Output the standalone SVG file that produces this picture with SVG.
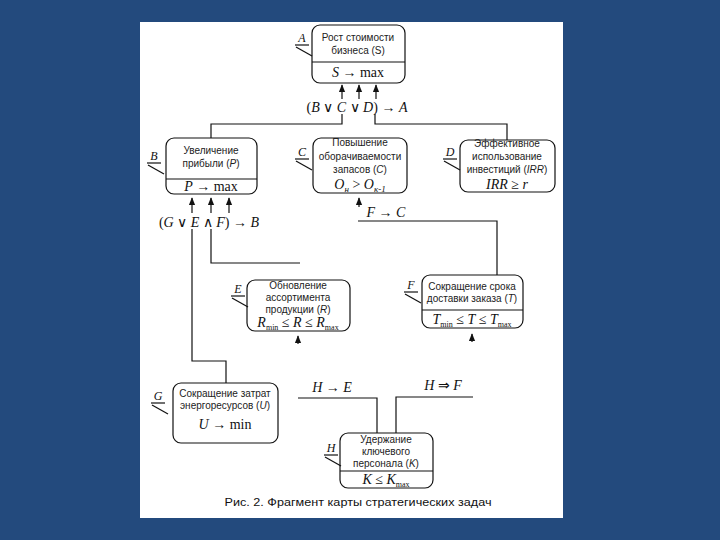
<svg xmlns="http://www.w3.org/2000/svg" width="720" height="540" viewBox="0 0 720 540">
<defs>
<style>
.box{fill:#fff;stroke:#111;stroke-width:1.2}
.ln{fill:none;stroke:#111;stroke-width:1.2}
.t{font-family:"Liberation Sans",Arial,sans-serif;font-size:10px;fill:#222;text-anchor:middle}
.f{font-family:"Liberation Serif","Times New Roman",serif;font-size:14px;fill:#111;text-anchor:middle}
.fi{font-style:italic}
.lab{font-family:"Liberation Serif","Times New Roman",serif;font-style:italic;font-size:12px;fill:#111;text-anchor:middle}
.cap{font-family:"Liberation Sans",Arial,sans-serif;font-size:11px;fill:#111;text-anchor:middle}
</style>
<marker id="ah" viewBox="0 0 8 10" refX="4" refY="1" markerWidth="7" markerHeight="8" markerUnits="userSpaceOnUse" orient="0">
<path d="M0,10 L4,0 L8,10 Z" fill="#111"/>
</marker>
<g id="mark">
<line x1="-7" y1="3" x2="7" y2="3" class="ln" stroke-width="1"/>
<line x1="-6" y1="5" x2="10" y2="14" class="ln" stroke-width="1"/>
</g>
</defs>
<rect width="720" height="540" fill="#234a7d"/>
<rect x="140" y="22" width="423" height="496" fill="#fff"/>

<g id="connectors">
<!-- into A -->
<line x1="342" y1="99" x2="342" y2="85" class="ln" marker-end="url(#ah)"/>
<line x1="359" y1="99" x2="359" y2="85" class="ln" marker-end="url(#ah)"/>
<line x1="376" y1="99" x2="376" y2="85" class="ln" marker-end="url(#ah)"/>
<polyline points="342,114 342,124 211,124 211,138" class="ln"/>
<polyline points="375,114 375,124 507,124 507,140" class="ln"/>
<!-- into B -->
<line x1="192" y1="213" x2="192" y2="198" class="ln" marker-end="url(#ah)"/>
<line x1="211" y1="213" x2="211" y2="198" class="ln" marker-end="url(#ah)"/>
<line x1="229" y1="213" x2="229" y2="198" class="ln" marker-end="url(#ah)"/>
<polyline points="192,229 192,361 226,361 226,383" class="ln"/>
<polyline points="211,229 211,263 300,263" class="ln"/>
<!-- into C -->
<line x1="359" y1="207" x2="359" y2="198" class="ln" marker-end="url(#ah)"/>
<polyline points="358,221 497,221 497,275" class="ln"/>
<!-- into E, F -->
<line x1="298" y1="344" x2="298" y2="336" class="ln" marker-end="url(#ah)"/>
<line x1="472" y1="342" x2="472" y2="334" class="ln" marker-end="url(#ah)"/>
<!-- from H -->
<polyline points="298,398 377,398 377,433" class="ln"/>
<polyline points="473,397 396,397 396,433" class="ln"/>
</g>

<g id="expr">
<text x="357" y="112" class="f">(<tspan class="fi">B</tspan> ∨ <tspan class="fi">C</tspan> ∨ <tspan class="fi">D</tspan>) → <tspan class="fi">A</tspan></text>
<text x="209" y="227" class="f">(<tspan class="fi">G</tspan> ∨ <tspan class="fi">E</tspan> ∧ <tspan class="fi">F</tspan>) → <tspan class="fi">B</tspan></text>
<text x="386" y="217" class="f"><tspan class="fi">F</tspan> → <tspan class="fi">C</tspan></text>
<text x="332" y="392" class="f" font-size="12" fill="#444"><tspan class="fi">H</tspan> → <tspan class="fi">E</tspan></text>
<text x="443" y="390" class="f"><tspan class="fi">H</tspan> ⇒ <tspan class="fi">F</tspan></text>
</g>

<g id="A">
<rect x="312" y="25" width="93" height="58" rx="8" class="box"/>
<line x1="312" y1="62" x2="405" y2="62" class="ln"/>
<text x="358" y="41" class="t">Рост стоимости</text>
<text x="358" y="54" class="t">бизнеса (S)</text>
<text x="358" y="77" class="f"><tspan class="fi">S</tspan> → max</text>
<text x="302" y="42" class="lab">A</text>
<use href="#mark" x="302" y="42"/>
</g>

<g id="B">
<rect x="166" y="138" width="91" height="56" rx="8" class="box"/>
<line x1="166" y1="179" x2="257" y2="179" class="ln"/>
<text x="211" y="154" class="t">Увеличение</text>
<text x="211" y="167" class="t">прибыли (<tspan font-style="italic">P</tspan>)</text>
<text x="211" y="191" class="f"><tspan class="fi">P</tspan> → max</text>
<text x="154" y="160" class="lab">B</text>
<use href="#mark" x="154" y="160"/>
</g>

<g id="C">
<rect x="313" y="138" width="94" height="55" rx="8" class="box"/>
<text x="360" y="146" class="t">Повышение</text>
<text x="360" y="160" class="t">оборачиваемости</text>
<text x="360" y="173" class="t">запасов (<tspan font-style="italic">C</tspan>)</text>
<text x="360" y="189" class="f"><tspan class="fi">O</tspan><tspan font-size="9" dy="3" class="fi">н</tspan><tspan dy="-3"> &gt; </tspan><tspan class="fi">O</tspan><tspan font-size="9" dy="3" class="fi">к-1</tspan></text>
<text x="302" y="156" class="lab">C</text>
<use href="#mark" x="302" y="156"/>
</g>

<g id="D">
<rect x="460" y="140" width="95" height="52" rx="8" class="box"/>
<text x="507" y="147" class="t">Эффективное</text>
<text x="507" y="160" class="t">использование</text>
<text x="507" y="173" class="t">инвестиций (<tspan font-style="italic">IRR</tspan>)</text>
<text x="507" y="189" class="f"><tspan class="fi">IRR</tspan> ≥ <tspan class="fi">r</tspan></text>
<text x="450" y="156" class="lab">D</text>
<use href="#mark" x="450" y="156"/>
</g>

<g id="E">
<rect x="247" y="280" width="103" height="51" rx="8" class="box"/>
<text x="298" y="289" class="t">Обновление</text>
<text x="298" y="301" class="t">ассортимента</text>
<text x="298" y="313" class="t">продукции (<tspan font-style="italic">R</tspan>)</text>
<text x="298" y="327" class="f"><tspan class="fi">R</tspan><tspan font-size="8" dy="3">min</tspan><tspan dy="-3"> ≤ </tspan><tspan class="fi">R</tspan> ≤ <tspan class="fi">R</tspan><tspan font-size="8" dy="3">max</tspan></text>
<text x="238" y="293" class="lab">E</text>
<use href="#mark" x="238" y="293"/>
</g>

<g id="F">
<rect x="422" y="275" width="101" height="53" rx="8" class="box"/>
<line x1="422" y1="310" x2="523" y2="310" class="ln"/>
<text x="472" y="290" class="t">Сокращение срока</text>
<text x="472" y="302" class="t">доставки заказа (<tspan font-style="italic">T</tspan>)</text>
<text x="472" y="324" class="f"><tspan class="fi">T</tspan><tspan font-size="8" dy="3">min</tspan><tspan dy="-3"> ≤ </tspan><tspan class="fi">T</tspan> ≤ <tspan class="fi">T</tspan><tspan font-size="8" dy="3">max</tspan></text>
<text x="411" y="289" class="lab">F</text>
<use href="#mark" x="411" y="289"/>
</g>

<g id="G">
<rect x="173" y="383" width="105" height="60" rx="8" class="box"/>
<text x="225" y="397" class="t">Сокращение затрат</text>
<text x="225" y="409" class="t">энергоресурсов (<tspan font-style="italic">U</tspan>)</text>
<text x="225" y="429" class="f"><tspan class="fi">U</tspan> → min</text>
<text x="158" y="400" class="lab">G</text>
<use href="#mark" x="158" y="400"/>
</g>

<g id="H">
<rect x="340" y="433" width="93" height="55" rx="8" class="box"/>
<line x1="340" y1="471" x2="433" y2="471" class="ln"/>
<text x="386" y="443" class="t">Удержание</text>
<text x="386" y="455" class="t">ключевого</text>
<text x="386" y="467" class="t">персонала (<tspan font-style="italic">K</tspan>)</text>
<text x="386" y="484" class="f"><tspan class="fi">K</tspan> ≤ <tspan class="fi">K</tspan><tspan font-size="8" dy="3">max</tspan></text>
<text x="331" y="452" class="lab">H</text>
<use href="#mark" x="331" y="452"/>
</g>

<text x="358" y="506" class="cap" textLength="267" lengthAdjust="spacingAndGlyphs">Рис. 2. Фрагмент карты стратегических задач</text>
</svg>
